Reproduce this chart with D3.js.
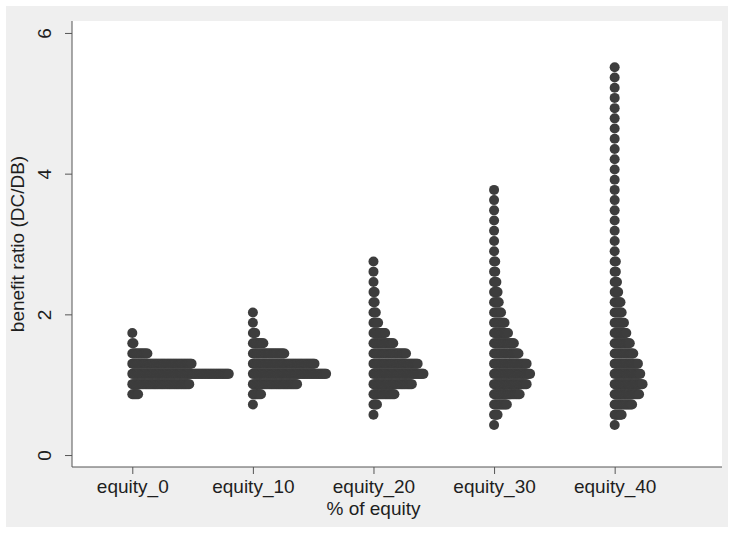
<!DOCTYPE html>
<html>
<head>
<meta charset="utf-8">
<script src="https://cdn.jsdelivr.net/npm/d3@7"></script>
<style>
  body { margin: 0; background: #fff; }
  text { font-family: "Liberation Sans", Arial, sans-serif; fill: #1e1e1e; }
</style>
</head>
<body>
<div id="chart"></div>
<script>
const width = 729;
const height = 533;

const categories = ["equity_0", "equity_10", "equity_20", "equity_30", "equity_40"];
const yTicks = [0, 2, 4, 6];

// bin midpoints shared by all groups (benefit ratio)
const rowValues = [0.427, 0.572, 0.718, 0.863, 1.008, 1.154, 1.299, 1.444, 1.589, 1.735,
  1.880, 2.025, 2.171, 2.316, 2.461, 2.607, 2.752, 2.897, 3.042, 3.188,
  3.333, 3.478, 3.624, 3.769, 3.914, 4.060, 4.205, 4.350, 4.495, 4.641,
  4.786, 4.931, 5.077, 5.222, 5.367, 5.513];

// number of dots in each bin, one array per group
const equity0 = [0, 0, 0, 6, 50, 84, 52, 14, 2, 1];
const equity10 = [0, 0, 1, 8, 39, 64, 54, 28, 10, 3, 1, 1];
const equity20 = [0, 1, 4, 19, 34, 44, 39, 29, 18, 11, 5, 3, 2, 2, 1, 1, 1];
const equity30 = [1, 4, 12, 23, 29, 32, 29, 22, 18, 13, 10, 7, 5, 4, 3, 2, 2,
  1, 1, 1, 1, 1, 1, 1];
const equity40 = [1, 7, 16, 22, 25, 23, 21, 17, 14, 11, 9, 7, 6, 4, 3, 2, 2,
  1, 1, 1, 1, 1, 1, 1, 1, 1, 1, 1, 1, 1, 1, 1, 1, 1, 1, 1];

const groups = [equity0, equity10, equity20, equity30, equity40];

const svg = d3.select("#chart").append("svg")
  .attr("width", width)
  .attr("height", height);

// outer grey panel
svg.append("rect")
  .attr("x", 6).attr("y", 6)
  .attr("width", 722).attr("height", 521)
  .attr("fill", "#efefef");

const plot = { left: 72, right: 722, top: 21, bottom: 467 };

svg.append("rect")
  .attr("x", plot.left).attr("y", plot.top)
  .attr("width", plot.right - plot.left)
  .attr("height", plot.bottom - plot.top)
  .attr("fill", "#fff");

const x = d3.scaleLinear().domain([-0.5, 4.89]).range([plot.left, plot.right]);
const y = d3.scaleLinear().domain([-0.17, 6.17]).range([plot.bottom, plot.top]);

const maxCount = d3.max(groups, g => d3.max(g));
const dx = (x(1) - x(0)) * 0.8 / (maxCount - 1);

// dots
const dots = [];
groups.forEach((g, gi) => {
  g.forEach((n, k) => {
    for (let i = 0; i < n; i++) dots.push({ g: gi, v: rowValues[k], i: i });
  });
});

svg.append("g")
  .attr("fill", "#3d3d3d")
  .selectAll("circle")
  .data(dots)
  .enter().append("circle")
    .attr("cx", d => x(d.g) + d.i * dx)
    .attr("cy", d => y(d.v))
    .attr("r", 5);

const fs = 19;

// axes
const yAxis = svg.append("g")
  .attr("transform", `translate(${plot.left},0)`)
  .call(d3.axisLeft(y).tickValues(yTicks).tickFormat(d3.format("d")).tickSize(7));
yAxis.attr("font-size", null).attr("font-family", null);
yAxis.select(".domain").remove();
yAxis.selectAll(".tick line").attr("stroke", "#555");
yAxis.selectAll(".tick text")
  .attr("font-size", fs)
  .attr("x", null).attr("dy", null)
  .attr("text-anchor", "middle")
  .attr("transform", "translate(-21,0) rotate(-90)")
  .attr("y", 0);

const xAxis = svg.append("g")
  .attr("transform", `translate(0,${plot.bottom})`)
  .call(d3.axisBottom(x).tickValues(d3.range(categories.length))
    .tickFormat(i => categories[i]).tickSize(7).tickPadding(6));
xAxis.attr("font-size", null).attr("font-family", null);
xAxis.select(".domain").remove();
xAxis.selectAll(".tick line").attr("stroke", "#555");
xAxis.selectAll(".tick text").attr("font-size", fs);

svg.append("line")
  .attr("x1", plot.left).attr("x2", plot.left)
  .attr("y1", plot.top).attr("y2", plot.bottom)
  .attr("stroke", "#555");
svg.append("line")
  .attr("x1", plot.left).attr("x2", plot.right)
  .attr("y1", plot.bottom).attr("y2", plot.bottom)
  .attr("stroke", "#555");

// axis titles
svg.append("text")
  .attr("x", (x(0) + x(4)) / 2)
  .attr("y", 515)
  .attr("text-anchor", "middle")
  .attr("font-size", fs)
  .text("% of equity");

svg.append("text")
  .attr("transform", `translate(24,${(plot.top + plot.bottom) / 2}) rotate(-90)`)
  .attr("text-anchor", "middle")
  .attr("font-size", fs)
  .text("benefit ratio (DC/DB)");
</script>
</body>
</html>
